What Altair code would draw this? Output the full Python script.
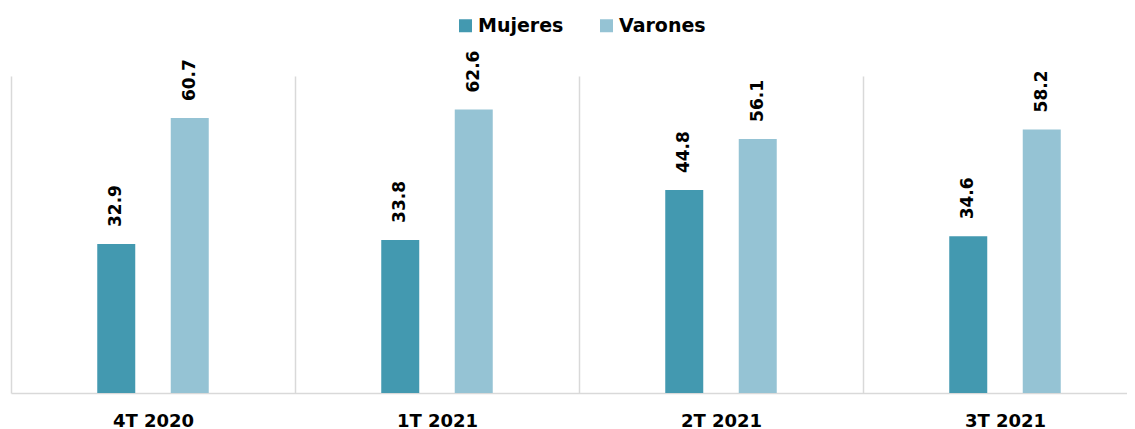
import altair as alt
import pandas as pd

quarters = ["4T 2020", "1T 2021", "2T 2021", "3T 2021"]
groups = ["Mujeres", "Varones"]
mujeres = [32.9, 33.8, 44.8, 34.6]
varones = [60.7, 62.6, 56.1, 58.2]
colors = ["#4399B0", "#95C3D4"]

rows = []
for i, q in enumerate(quarters):
    rows.append({"trimestre": q, "sexo": "Mujeres", "valor": mujeres[i]})
    rows.append({"trimestre": q, "sexo": "Varones", "valor": varones[i]})
df = pd.DataFrame(rows)

FONT = "DejaVu Sans"

x = alt.X(
    "trimestre:N",
    sort=quarters,
    scale=alt.Scale(range=[0, 1136], paddingInner=0, paddingOuter=0),
    axis=alt.Axis(
        title=None,
        labelAngle=0,
        grid=True,
        tickBand="extent",
        ticks=False,
        gridColor="#d9d9d9",
        gridWidth=1.5,
        domainColor="#d9d9d9",
        domainWidth=1.5,
        labelFont=FONT,
        labelFontSize=18,
        labelFontWeight="bold",
        labelColor="#000000",
        labelPadding=19,
    ),
)
xoff = alt.XOffset(
    "sexo:N",
    scale=alt.Scale(domain=["_a"] + groups + ["_b"], paddingInner=0.483, paddingOuter=0.1735),
)
y = alt.Y("valor:Q", scale=alt.Scale(domain=[0, 70]), axis=None)

bars = alt.Chart(df).mark_bar().encode(
    x=x,
    xOffset=xoff,
    y=y,
    color=alt.Color(
        "sexo:N",
        sort=groups,
        scale=alt.Scale(domain=groups, range=colors),
        legend=alt.Legend(
            title=None,
            orient="none",
            legendX=445,
            legendY=-60,
            direction="horizontal",
            symbolType="square",
            symbolSize=169,
            symbolStrokeWidth=0,
            labelFont=FONT,
            labelFontSize=19,
            labelFontWeight="bold",
            labelColor="#000000",
            columnPadding=33,
            labelOffset=3,
        ),
    ),
)

labels = alt.Chart(df).mark_text(
    angle=270,
    align="left",
    baseline="middle",
    dx=17,
    font=FONT,
    fontSize=17,
    fontWeight="bold",
    color="#000000",
).encode(
    x=x,
    xOffset=xoff,
    y=y,
    text=alt.Text("valor:Q", format=".1f"),
)

chart = (
    alt.layer(bars, labels)
    .properties(
        width=1116,
        height=317,
        autosize=alt.AutoSizeParams(type="none"),
        padding={"left": 3, "top": 68, "right": 0, "bottom": 40},
        background="#ffffff",
    )
    .configure_view(stroke=None)
)

chart.save("out.html", embed_options={"renderer": "svg", "actions": False})
